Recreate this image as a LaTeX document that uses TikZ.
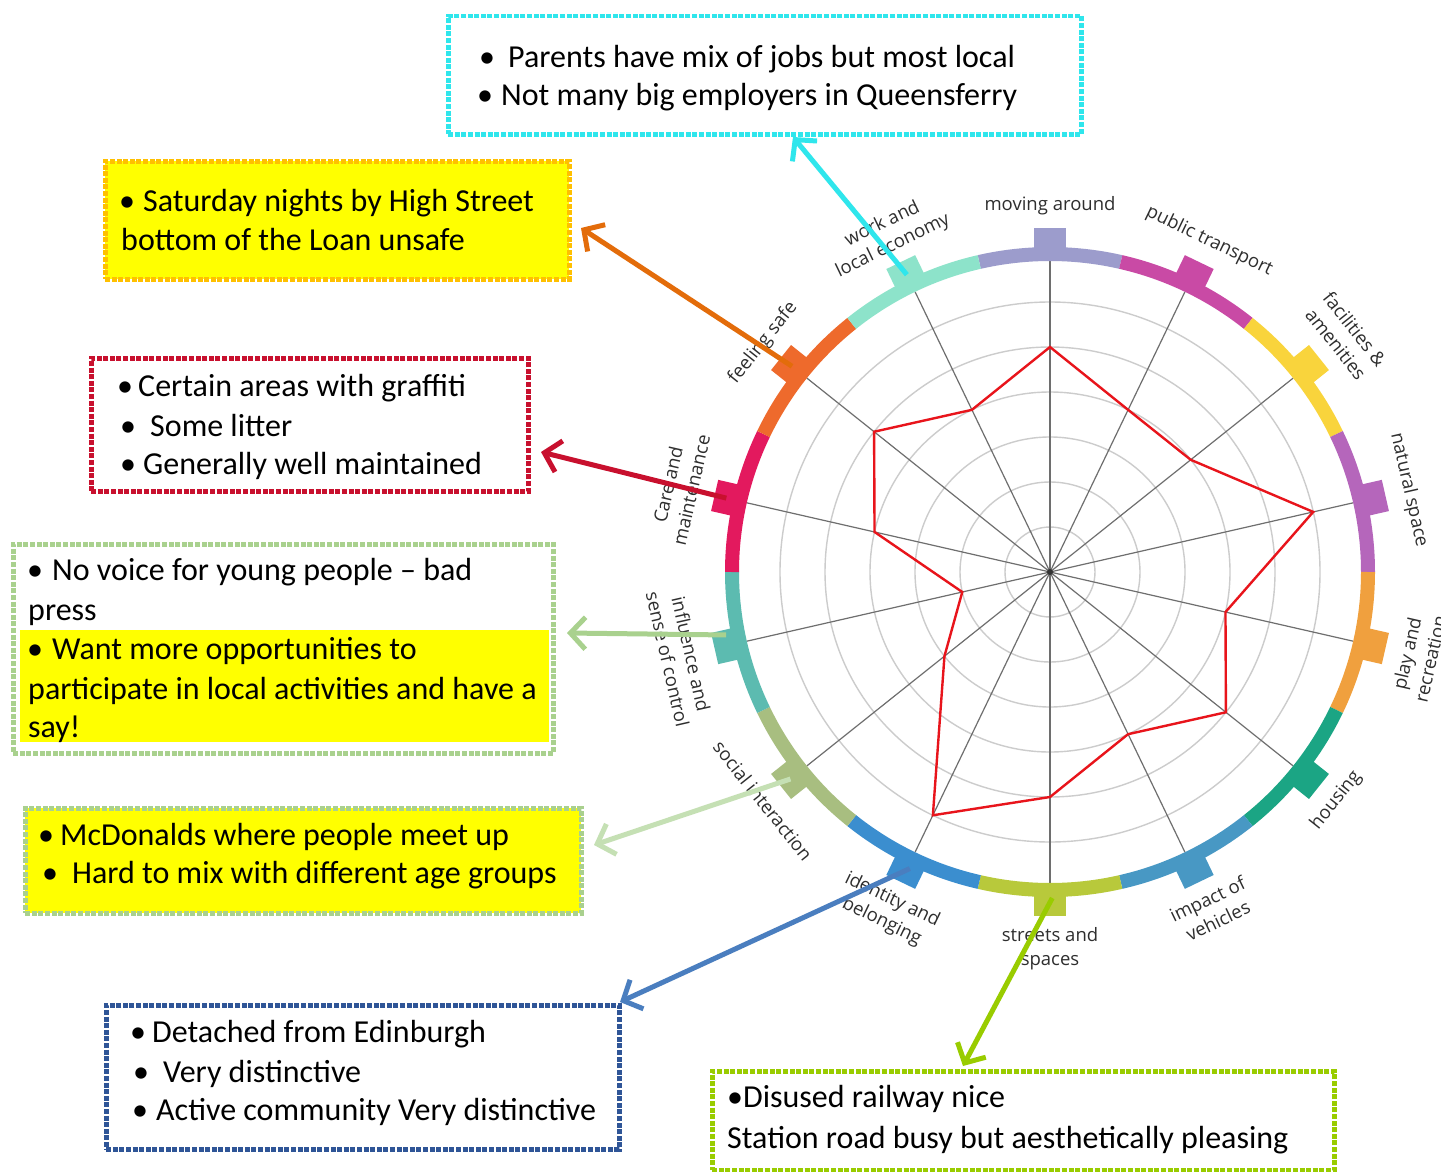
\documentclass[tikz,border=0pt]{standalone}
\usepackage{fontspec}
\setmainfont{Carlito}
\newfontfamily\lblfont{Open Sans}
\usetikzlibrary{arrows.meta}
\definecolor{cMove}{HTML}{9C9CCC}
\definecolor{cPub}{HTML}{C94AA5}
\definecolor{cFac}{HTML}{F9D43C}
\definecolor{cNat}{HTML}{B566BB}
\definecolor{cPlay}{HTML}{F0A03E}
\definecolor{cHouse}{HTML}{1BA584}
\definecolor{cVeh}{HTML}{4898C4}
\definecolor{cStr}{HTML}{B8C93B}
\definecolor{cIdent}{HTML}{3B8ECF}
\definecolor{cSoc}{HTML}{A8BE80}
\definecolor{cInfl}{HTML}{5CBBB0}
\definecolor{cCare}{HTML}{E3195E}
\definecolor{cSafe}{HTML}{EE6A2C}
\definecolor{cWork}{HTML}{8DE3CA}
\definecolor{arCyan}{HTML}{2FE6EC}
\definecolor{arOrange}{HTML}{E36C0A}
\definecolor{bdGold}{HTML}{FFC000}
\definecolor{arRed}{HTML}{C8102E}
\definecolor{arGreen}{HTML}{A9D18E}
\definecolor{arGreenB}{HTML}{C5E0B4}
\definecolor{bdSoc}{HTML}{A9D08E}
\definecolor{arBlue}{HTML}{4A7EBF}
\definecolor{bdBlue}{HTML}{2F5597}
\definecolor{arLime}{HTML}{99CC00}
\definecolor{gridgray}{HTML}{CCCCCC}
\definecolor{spokegray}{HTML}{6E6E6E}
\definecolor{labelgray}{HTML}{2E2E2E}
\definecolor{hiyellow}{HTML}{FFFF00}
\definecolor{polyred}{HTML}{E8141B}
\begin{document}
\begin{tikzpicture}[x=1pt,y=-1pt,
  boxtext/.style={anchor=base west, inner sep=0pt, font=\fontsize{32}{39}\selectfont, text=black},
  wlabel/.style={font=\lblfont\fontsize{18.5}{24}\selectfont, text=labelgray, align=center, inner sep=0pt},
  callout/.style={line width=5pt, -{Straight Barb[length=15pt,width=32pt]}},
  dotbox/.style={line width=4.5pt, dash pattern=on 5pt off 1.6pt, rectangle, inner sep=0pt, anchor=north west},
]
\useasboundingbox (0,0) rectangle (1441,1172);
\fill[white] (0,0) rectangle (1441,1172);

% ---------------- wheel ----------------
\begin{scope}[shift={(1050,572)}, y=1pt]
  \foreach \r in {45,90,135,180,225,270}
    \draw[gridgray, line width=1.4pt] (0,0) circle[radius=\r];
  \foreach \k in {0,...,13}
    \draw[spokegray, line width=1.2pt] (0,0) -- ({90-\k*360/14}:311);
  \fill[black!80] (0,0) circle[radius=3];
  \draw[polyred, line width=2.4pt, line join=miter]
    (90:225) -- (64.29:180) -- (38.57:180) -- (12.86:270) -- (-12.86:180)
    -- (-38.57:225) -- (-64.29:180) -- (-90:225) -- (-115.71:270)
    -- (-141.43:135) -- (-167.14:90) -- (167.14:180) -- (141.43:225)
    -- (115.71:180) -- cycle;
  \foreach \k/\c in {0/cMove,1/cPub,2/cFac,3/cNat,4/cPlay,5/cHouse,6/cVeh,7/cStr,8/cIdent,9/cSoc,10/cInfl,11/cCare,12/cSafe,13/cWork}{
    \pgfmathsetmacro\ang{90-\k*360/14}
    \draw[\c, line width=14pt] ({\ang+180/14}:318) arc[start angle={\ang+180/14}, end angle={\ang-180/14}, radius=318];
    \fill[\c, rotate=\ang] (318,-16) rectangle (344,16);
  }
  % labels
  \node[wlabel, rotate=0]      (lMove)  at (90:366)      {moving around};
  \node[wlabel, rotate=-25.71] (lPub)   at (64.29:367)   {public transport};
  \node[wlabel, rotate=-51.43] (lFac)   at (38.57:378)   {facilities \&\\amenities};
  \node[wlabel, rotate=-77.14] (lNat)   at (12.86:368)   {natural space};
  \node[wlabel, rotate=77.14]  (lPlay)  at (-12.86:378)  {play and\\recreation};
  \node[wlabel, rotate=51.43]  (lHouse) at (-38.57:366)  {housing};
  \node[wlabel, rotate=25.71]  (lVeh)   at (-64.29:375)  {impact of\\vehicles};
  \node[wlabel, rotate=0]      (lStr)   at (-90:377)     {streets and\\spaces};
  \node[wlabel, rotate=-25.71] (lIdent) at (-115.71:376) {identity and\\belonging};
  \node[wlabel, rotate=-51.43] (lSoc)   at (-141.43:367) {social interaction};
  \node[wlabel, rotate=-77.14] (lInfl)  at (-167.14:380) {influence and\\sense of control};
  \node[wlabel, rotate=77.14]  (lCare)  at (167.14:380)  {Care and\\maintenance};
  \node[wlabel, rotate=51.43]  (lSafe)  at (141.43:367)  {feeling safe};
  \node[wlabel, rotate=25.71]  (lWork)  at (115.71:374)  {work and\\local economy};
  % arrow start points on tabs
  \coordinate (sWork)  at (115.71:330);
  \coordinate (sSafe)  at (141.43:330);
  \coordinate (sCare)  at (167.14:332);
  \coordinate (sInfl)  at (-169:330);
  \coordinate (sSoc)   at (-141.43:332);
  \coordinate (sIdent) at (-115.3:328);
  \coordinate (sStr)   at (-89.6:326);
\end{scope}

% ---------------- boxes ----------------
\node[dotbox, draw=arCyan, minimum width=633, minimum height=118] (bxWork) at (446,14) {};
\node[dotbox, draw=bdGold, fill=hiyellow, minimum width=464, minimum height=118] (bxSafe) at (103,159) {};
\node[dotbox, draw=arRed, minimum width=437, minimum height=133] (bxCare) at (89,356) {};
\node[dotbox, draw=arGreen, minimum width=540, minimum height=209] (bxInfl) at (11,542) {};
\fill[hiyellow] (20,630) rectangle (549,742);
\node[dotbox, draw=bdSoc, fill=hiyellow, minimum width=556, minimum height=105] (bxSoc) at (23,806) {};
\node[dotbox, draw=bdBlue, minimum width=513, minimum height=144] (bxIdent) at (104,1003) {};
\node[dotbox, draw=arLime, minimum width=622, minimum height=99] (bxStr) at (710,1069) {};

% ---------------- box texts ----------------
\node[boxtext] (w1b) at (479,67) {•};
\node[boxtext] (w1)  at (508,67) {Parents have mix of jobs but most local};
\node[boxtext] (w2b) at (477,106) {•};
\node[boxtext] (w2)  at (501,106) {Not many big employers in Queensferry};

\node[boxtext] (s1b) at (119,211) {•};
\node[boxtext] (s1)  at (143,211) {Saturday nights by High Street};
\node[boxtext] (s2)  at (121,250) {bottom of the Loan unsafe};

\node[boxtext] (c1b) at (117,396) {•};
\node[boxtext] (c1)  at (138,396) {Certain areas with graffiti};
\node[boxtext] (c2b) at (120,436) {•};
\node[boxtext] (c2)  at (150,436) {Some litter};
\node[boxtext] (c3b) at (120,474) {•};
\node[boxtext] (c3)  at (143,474) {Generally well maintained};

\node[boxtext] (i1b) at (27,580) {•};
\node[boxtext] (i1)  at (52,580) {No voice for young people – bad};
\node[boxtext] (i2)  at (28,620) {press};
\node[boxtext] (i3b) at (27,659) {•};
\node[boxtext] (i3)  at (52,659) {Want more opportunities to};
\node[boxtext] (i4)  at (28,699) {participate in local activities and have a};
\node[boxtext] (i5)  at (28,737) {say!};

\node[boxtext] (o1b) at (38,845) {•};
\node[boxtext] (o1)  at (60,845) {McDonalds where people meet up};
\node[boxtext] (o2b) at (42,883) {•};
\node[boxtext] (o2)  at (72,883) {Hard to mix with different age groups};

\node[boxtext] (d1b) at (130,1042) {•};
\node[boxtext] (d1)  at (152,1042) {Detached from Edinburgh};
\node[boxtext] (d2b) at (133,1082) {•};
\node[boxtext] (d2)  at (163,1082) {Very distinctive};
\node[boxtext] (d3b) at (132,1120) {•};
\node[boxtext] (d3)  at (156,1120) {Active community Very distinctive};

\node[boxtext] (t1)  at (727,1107) {•Disused railway nice};
\node[boxtext] (t2)  at (727,1148) {Station road busy but aesthetically pleasing};

% ---------------- arrows ----------------
\coordinate (eWork)  at (793,137);
\coordinate (eSafe)  at (581,228);
\coordinate (eCare)  at (541,452);
\coordinate (eInfl)  at (567,633);
\coordinate (eSoc)   at (594,845);
\coordinate (eIdent) at (620,1002);
\coordinate (eStr)   at (963,1066);
\draw[callout, arCyan]   (sWork)  -- (eWork);
\draw[callout, arOrange] (sSafe)  -- (eSafe);
\draw[callout, arRed]    (sCare)  -- (eCare);
\draw[callout, arGreen]  (sInfl)  -- (eInfl);
\draw[callout, arGreenB] (sSoc)   -- (eSoc);
\draw[callout, arBlue]   (sIdent) -- (eIdent);
\draw[callout, arLime]   (sStr)   -- (eStr);
\end{tikzpicture}
\end{document}
